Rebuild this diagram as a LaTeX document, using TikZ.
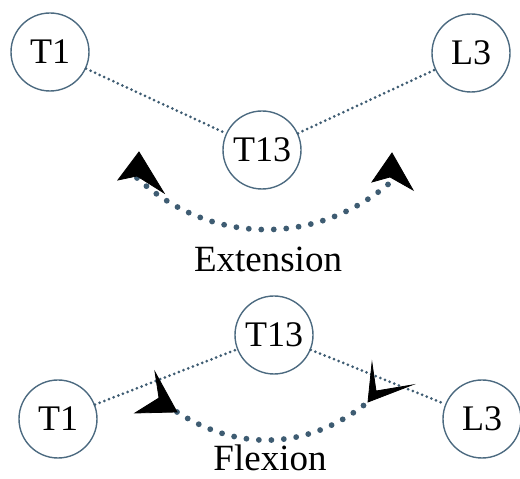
\documentclass[tikz,border=0pt]{standalone}
\usepackage{fontspec}
\setmainfont{Liberation Serif}
\definecolor{ringcol}{HTML}{4C6A80}
\definecolor{dotcol}{HTML}{3E5C72}
\begin{document}
\begin{tikzpicture}[x=1pt,y=1pt,
  vertebra/.style={circle,draw=ringcol,line width=1.4pt,minimum size=78pt,inner sep=0pt,
    font=\fontsize{36}{38}\selectfont},
  fine/.style={draw=dotcol,line width=3pt,line cap=round,dash pattern=on 0pt off 5pt},
  coarse/.style={draw=dotcol,line width=5.8pt,line cap=round,dash pattern=on 0pt off 12.5pt},
  caption/.style={anchor=base,inner sep=0pt,font=\fontsize{37}{40}\selectfont},
  head/.style={fill=black,draw=black,line width=0.8pt,line join=miter}]
\useasboundingbox (0,0) rectangle (520,479);

% ---- extension (upper spine) ----
\node[vertebra] (T1a)  at (50,427)  {T1};
\node[vertebra] (T13a) at (262,329) {T13};
\node[vertebra] (L3a)  at (471,426) {L3};
\draw[fine] (T1a) -- (T13a);
\draw[fine] (T13a) -- (L3a);

\coordinate (extL) at (137,301);
\coordinate (extR) at (392,298);
\draw[coarse] (extL) to[bend right=42] (extR);
\filldraw[head] (139,327) -- (118,299) -- (137,303) -- (164,286) -- cycle;
\filldraw[head] (392,326) -- (372,297) -- (390,302) -- (413,289) -- cycle;
\node[caption] (ext) at (268,207) {Extension};

% ---- flexion (lower spine) ----
\node[vertebra] (T13b) at (274,144) {T13};
\node[vertebra] (T1b)  at (58,60)   {T1};
\node[vertebra] (L3b)  at (482,60)  {L3};
\draw[fine] (T1b) -- (T13b);
\draw[fine] (T13b) -- (L3b);

\coordinate (flxL) at (177,67);
\coordinate (flxR) at (368,77);
\draw[coarse] (flxL) to[bend right=36] (flxR);
\filldraw[head] (177,67) -- (155,107) -- (159,81) -- (135,66) -- cycle;
\filldraw[head] (368,77) -- (372,116) -- (376,88) -- (412,94) -- cycle;
\node[caption] (flx) at (270,8) {Flexion};
\end{tikzpicture}
\end{document}
